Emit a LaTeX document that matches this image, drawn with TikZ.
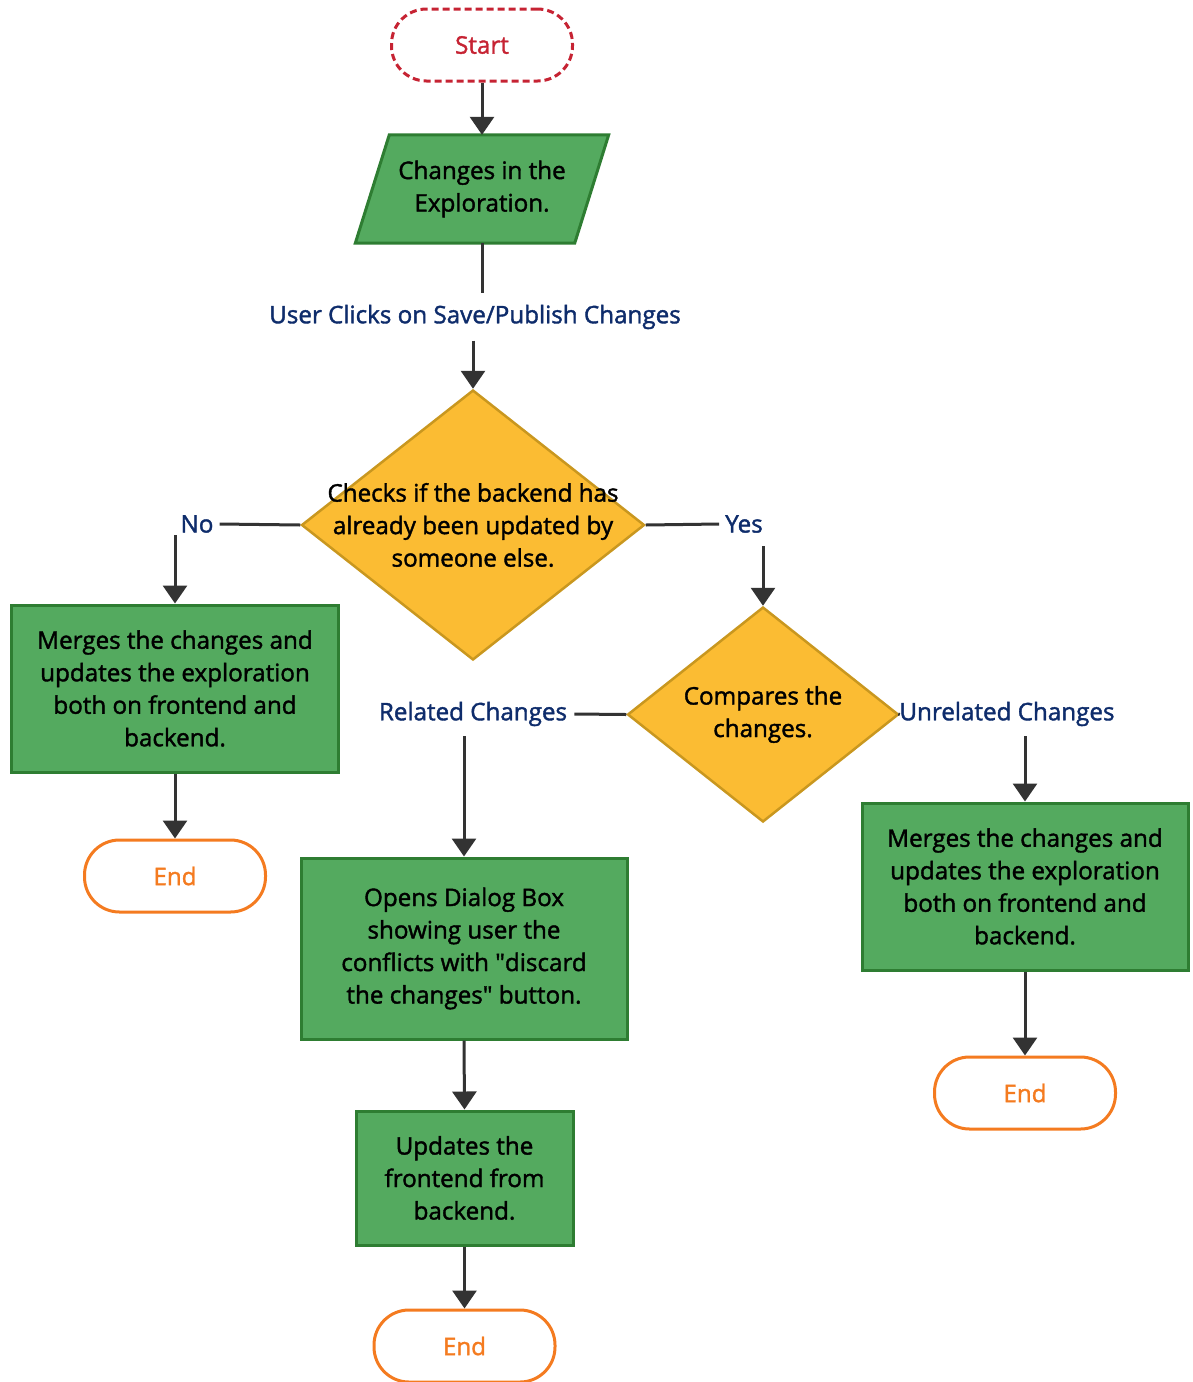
\documentclass[tikz,border=0pt]{standalone}
\usepackage{fontspec}
\setmainfont{Open Sans}[BoldFont={Open Sans}, BoldFeatures={FakeBold=1.6}]
\usetikzlibrary{shapes.geometric,arrows.meta}
\definecolor{gfill}{RGB}{84,170,95}
\definecolor{gdraw}{RGB}{46,125,50}
\definecolor{yfill}{RGB}{251,188,51}
\definecolor{ydraw}{RGB}{201,151,31}
\definecolor{navy}{RGB}{14,44,107}
\definecolor{startred}{RGB}{198,35,51}
\definecolor{endorange}{RGB}{244,123,32}
\definecolor{conn}{RGB}{51,51,51}
\begin{document}
\begin{tikzpicture}[x=1pt,y=-1pt,
  every node/.style={font=\fontsize{24.2}{32.5}\selectfont\bfseries, align=center},
  greenbox/.style={draw=gdraw, fill=gfill, line width=3pt, inner sep=0pt},
  decision/.style={shape=diamond, draw=ydraw, fill=yfill, line width=2.5pt, inner sep=0pt},
  startbox/.style={draw=startred, dashed, dash pattern=on 7pt off 4pt, line width=3pt, rounded corners=35pt, minimum width=181pt, minimum height=72pt, text=startred, inner sep=0pt},
  endbox/.style={draw=endorange, line width=3pt, rounded corners=35pt, minimum width=181pt, minimum height=72pt, text=endorange, inner sep=0pt},
  lbl/.style={text=navy, inner sep=0pt},
  plain/.style={draw=conn, line width=3pt},
  arrow/.style={draw=conn, line width=3pt, -{Triangle[width=24pt,length=18pt]}},
]
\useasboundingbox (0,0) rectangle (1192,1382);

\node[startbox] (start) at (482,45) {Start};

\node[minimum width=219pt, minimum height=108pt, inner sep=0pt] (par) at (482,189) {};
\draw[greenbox] ([xshift=17pt]par.north west) -- ([xshift=17pt]par.north east)
  -- ([xshift=-17pt]par.south east) -- ([xshift=-17pt]par.south west) -- cycle;
\node at (par.center) {Changes in the\\Exploration.};

\node[lbl, minimum height=47pt] (user) at (475,317) {User Clicks on Save/Publish Changes};

\node[decision, minimum width=343pt, minimum height=270pt] (d1) at (473,525) {};
\node at (d1.center) {Checks if the backend has\\already been updated by\\someone else.};

\node[lbl, inner xsep=6pt, minimum height=22pt] (no) at (197,524) {No};
\node[lbl, inner xsep=6pt, minimum height=44pt] (yes) at (744,524) {Yes};

\node[greenbox, minimum width=327pt, minimum height=167pt] (lbox) at (175,688.5)
  {Merges the changes and\\updates the exploration\\both on frontend and\\backend.};
\node[endbox] (end1) at (175,876) {End};

\node[decision, minimum width=271pt, minimum height=215pt] (d2) at (763,714.5) {};
\node at (d2.center) {Compares the\\changes.};

\node[lbl, inner xsep=7pt, minimum height=44pt] (rel) at (473,714) {Related Changes};
\node[lbl, inner xsep=1pt, minimum height=44pt] (unrel) at (1007,714) {Unrelated Changes};

\node[greenbox, minimum width=326pt, minimum height=181pt] (mbox) at (464,948.5)
  {Opens Dialog Box\\showing user the\\conflicts with \textquotedbl discard\\the changes\textquotedbl{} button.};
\node[greenbox, minimum width=217pt, minimum height=134pt] (ubox) at (464.5,1178)
  {Updates the\\frontend from\\backend.};
\node[endbox] (end2) at (464.5,1346) {End};

\node[greenbox, minimum width=326pt, minimum height=167pt] (rbox) at (1025,886.5)
  {Merges the changes and\\updates the exploration\\both on frontend and\\backend.};
\node[endbox] (end3) at (1025,1093) {End};

% connectors
\draw[arrow] (start.south) -- (par.north);
\draw[plain] (par.south) -- (par.south |- user.north);
\draw[arrow] (d1.north |- user.south) -- (d1.north);
\draw[plain] (d1.west) -- (no.east);
\draw[arrow] (lbox.north |- no.south) -- (lbox.north);
\draw[plain] (d1.east) -- (yes.west);
\draw[arrow] (d2.north |- yes.south) -- (d2.north);
\draw[arrow] (lbox.south) -- (end1.north);
\draw[plain] (d2.west) -- (rel.east);
\draw[arrow] (mbox.north |- rel.south) -- (mbox.north);
\draw[plain] (d2.east) -- (unrel.west);
\draw[arrow] (rbox.north |- unrel.south) -- (rbox.north);
\draw[arrow] (mbox.south) -- (ubox.north);
\draw[arrow] (ubox.south) -- (end2.north);
\draw[arrow] (rbox.south) -- (end3.north);
\end{tikzpicture}
\end{document}
